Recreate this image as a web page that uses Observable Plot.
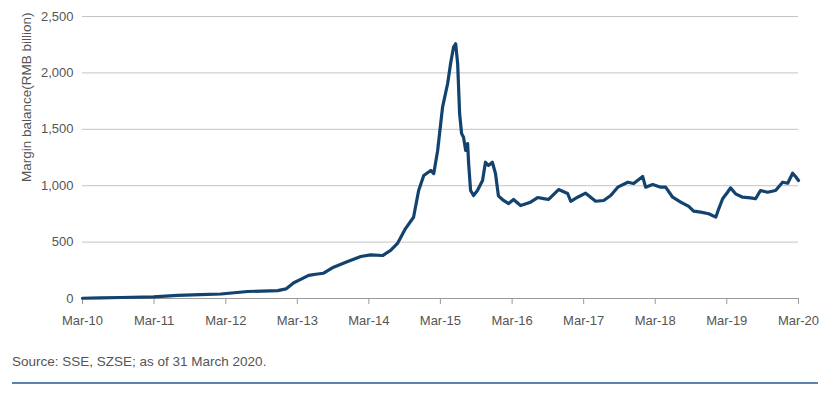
<!DOCTYPE html>
<html><head><meta charset="utf-8">
<script src="https://cdn.jsdelivr.net/npm/d3@7"></script>
<script src="https://cdn.jsdelivr.net/npm/@observablehq/plot@0.6"></script>
<style>
body{margin:0;background:#fff;font-family:Arial,"Liberation Sans",Helvetica,sans-serif;}
#wrap{width:830px;height:396px;position:relative;}
#source{position:absolute;left:12px;top:354px;font-size:13.5px;color:#555;}
#rule{position:absolute;left:12px;top:382px;width:806px;height:2px;background:#5a86ad;}
</style></head><body>
<div id="wrap"><div id="chart"></div><div id="source">Source: SSE, SZSE; as of 31 March 2020.</div><div id="rule"></div></div>
<script>
const dates = [
"2010-03-31","2010-07-01","2010-10-12","2011-03-28","2011-07-29","2011-11-23","2012-03-06","2012-07-20","2012-12-21","2013-02-01",
"2013-03-13","2013-04-17","2013-05-28","2013-07-03","2013-08-12","2013-10-02","2013-12-13","2014-02-18","2014-04-09","2014-06-09",
"2014-07-20","2014-08-24","2014-10-04","2014-11-14","2014-12-10","2015-01-05","2015-02-10","2015-02-25","2015-03-17","2015-04-11",
"2015-05-07","2015-05-22","2015-06-06","2015-06-17","2015-06-27","2015-07-07","2015-07-17","2015-07-27","2015-08-07","2015-08-17",
"2015-08-22","2015-09-01","2015-09-16","2015-10-06","2015-11-01","2015-11-16","2015-12-01","2015-12-21","2016-01-06","2016-01-21",
"2016-02-16","2016-03-13","2016-04-07","2016-05-13","2016-07-03","2016-08-08","2016-09-08","2016-10-03","2016-11-23","2017-01-08",
"2017-01-24","2017-02-28","2017-04-10","2017-05-31","2017-07-11","2017-08-16","2017-09-21","2017-11-11","2017-12-11","2018-01-26",
"2018-02-10","2018-03-18","2018-04-28","2018-05-23","2018-06-28","2018-08-08","2018-09-18","2018-10-13","2018-11-18","2018-12-29",
"2019-02-03","2019-02-18","2019-03-10","2019-04-04","2019-04-19","2019-05-15","2019-06-20","2019-07-30","2019-08-25","2019-09-19",
"2019-10-25","2019-12-05","2020-01-10","2020-02-05","2020-03-01","2020-03-16","2020-03-31"
];
const values = [
2,5,9,15,27,35,40,62,70,85,
140,170,205,215,224,278,328,372,387,381,
426,488,620,720,957,1090,1135,1108,1312,1696,
1906,2083,2228,2258,2083,1640,1463,1430,1312,1374,
1197,957,913,957,1046,1208,1179,1208,1108,910,
869,842,878,824,854,895,886,878,966,931,
862,898,934,862,869,913,987,1031,1019,1081,
987,1010,987,987,898,854,816,774,766,751,
721,795,884,942,981,928,898,892,884,957,
942,957,1031,1022,1111,1081,1046
];
const yTicks = [0, 500, 1000, 1500, 2000, 2500];
const xTickDates = ["2010-03-31","2011-03-31","2012-03-31","2013-03-31","2014-03-31","2015-03-31","2016-03-31","2017-03-31","2018-03-31","2019-03-31","2020-03-31"];
const xTickLabels = ["Mar-10","Mar-11","Mar-12","Mar-13","Mar-14","Mar-15","Mar-16","Mar-17","Mar-18","Mar-19","Mar-20"];
const yTitle = "Margin balance(RMB billion)";

const data = dates.map((d, i) => ({date: new Date(d), value: values[i]}));
const tickDates = xTickDates.map(d => new Date(d));
const labelOf = d => xTickLabels[tickDates.findIndex(t => +t === +d)];

const chart = Plot.plot({
  width: 830, height: 340,
  marginLeft: 82, marginRight: 32, marginTop: 16, marginBottom: 42,
  style: {fontFamily: "Arial, 'Liberation Sans', sans-serif", fontSize: "13px", color: "#555", background: "#fff"},
  x: {type: "utc", domain: [tickDates[0], tickDates[tickDates.length - 1]]},
  y: {domain: [0, 2500]},
  marks: [
    Plot.gridY(yTicks, {stroke: "#c4c4c4", strokeOpacity: 1}),
    Plot.ruleY([0], {stroke: "#9a9a9a", strokeWidth: 1}),
    Plot.axisX(tickDates, {tickFormat: labelOf, tickSize: 6, tickPadding: 11, stroke: "#9a9a9a", fill: "#555", label: null, fontSize: 13}),
    Plot.axisY(yTicks, {tickFormat: d3.format(","), tickSize: 0, tickPadding: 9, fill: "#555", label: null, fontSize: 13}),
    Plot.line(data, {x: "date", y: "value", stroke: "#12426e", strokeWidth: 3.2, strokeLinejoin: "round"}),
    Plot.text([yTitle], {frameAnchor: "top-left", rotate: -90, textAnchor: "end", dx: -61, dy: -4, fill: "#555", fontSize: 13.5})
  ]
});
document.getElementById("chart").appendChild(chart);
</script>
</body></html>
